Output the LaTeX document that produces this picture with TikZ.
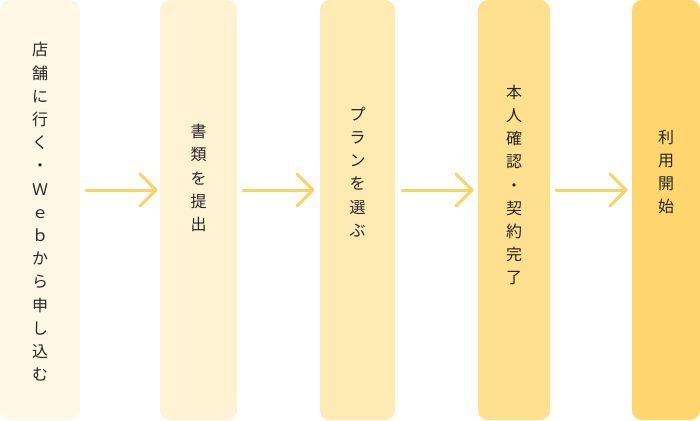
\documentclass[tikz,border=0pt]{standalone}
\usepackage{fontspec}
\setmainfont{Noto Sans CJK JP}
\begin{document}
\begin{tikzpicture}[x=1pt,y=-1pt,
  box/.style={rounded corners=10pt,inner sep=0pt},
  lbl/.style={align=center,font=\fontsize{16}{23.2}\selectfont,text=black!85},
  arr/.style={draw=yellow!55!orange!70!white,line width=3pt,line cap=round,line join=round}]
\useasboundingbox (0,0) rectangle (700,420);
\definecolor{c1}{HTML}{FFF8E7}
\definecolor{c2}{HTML}{FFF3D4}
\definecolor{c3}{HTML}{FFEAB3}
\definecolor{c4}{HTML}{FFE08F}
\definecolor{c5}{HTML}{FFD66E}
\definecolor{ac}{HTML}{F8D466}
\fill[c1,box] (0,0) rectangle (80,420);
\fill[c2,box] (160,0) rectangle (237,420);
\fill[c3,box] (320,0) rectangle (395,420);
\fill[c4,box] (478,0) rectangle (550,420);
\fill[c5,box] (632,0) rectangle (700,420);
\node[lbl] (t1) at (40,212) {店\\舗\\に\\行\\く\\・\\Ｗ\\ｅ\\ｂ\\か\\ら\\申\\し\\込\\む};
\node[lbl] (t2) at (198.5,178) {書\\類\\を\\提\\出};
\node[lbl] (t3) at (357.5,172) {プ\\ラ\\ン\\を\\選\\ぶ};
\node[lbl] (t4) at (514,185) {本\\人\\確\\認\\・\\契\\約\\完\\了};
\node[lbl] (t5) at (666,172) {利\\用\\開\\始};
\coordinate (a1s) at (86,190); \coordinate (a1e) at (156,190);
\coordinate (a2s) at (243,190); \coordinate (a2e) at (313,190);
\coordinate (a3s) at (402,190); \coordinate (a3e) at (472,190);
\coordinate (a4s) at (556,190); \coordinate (a4e) at (626,190);
\foreach \i in {1,2,3,4}{
  \draw[arr,draw=ac] (a\i s) -- (a\i e);
  \draw[arr,draw=ac] ([xshift=-16,yshift=-16]a\i e) -- (a\i e) -- ([xshift=-16,yshift=16]a\i e);
}
\end{tikzpicture}
\end{document}
